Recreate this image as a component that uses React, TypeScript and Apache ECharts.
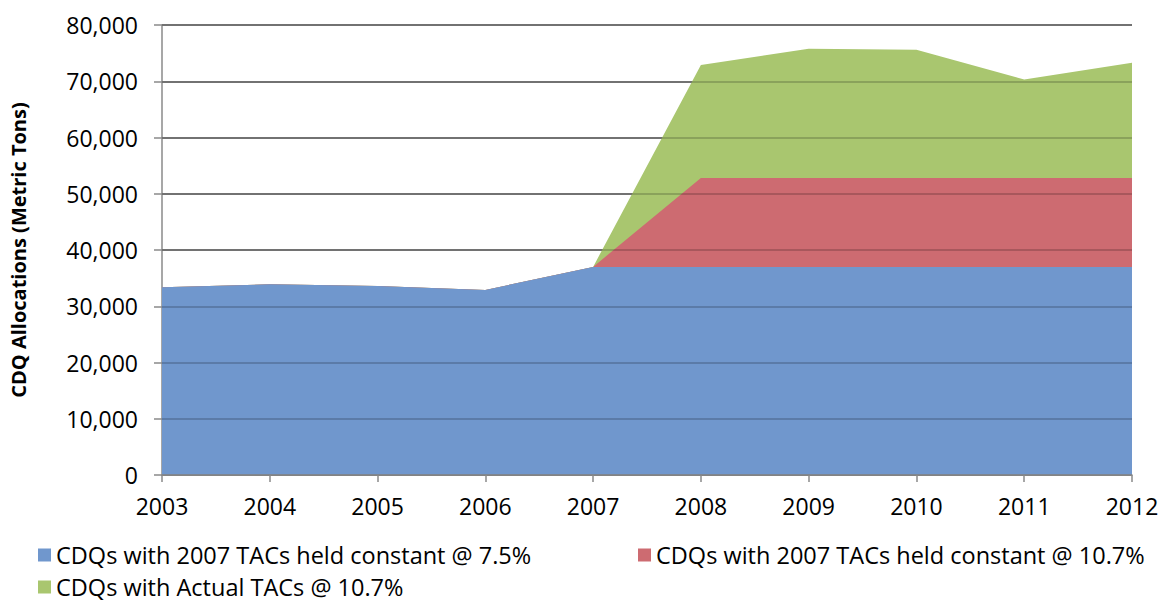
import React, { useEffect, useRef } from "react";
import * as echarts from "echarts";

const years = ["2003", "2004", "2005", "2006", "2007", "2008", "2009", "2010", "2011", "2012"];
const held75 = [33400, 33900, 33600, 32900, 37000, 37000, 37000, 37000, 37000, 37000];
const held107 = [33400, 33900, 33600, 32900, 37000, 52800, 52800, 52800, 52800, 52800];
const actual107 = [33400, 33900, 33600, 32900, 37000, 72900, 75800, 75600, 70300, 73300];
const seriesNames = [
  "CDQs with 2007 TACs held constant @ 7.5%",
  "CDQs with 2007 TACs held constant @ 10.7%",
  "CDQs with Actual TACs @ 10.7%",
];
const yTicks = { min: 0, max: 80000, interval: 10000 };

const FONT = "'Open Sans', sans-serif";

export default function App() {
  const ref = useRef<HTMLDivElement>(null);
  useEffect(() => {
    if (!ref.current) return;
    const chart = echarts.init(ref.current, undefined, { renderer: "svg" });
    const legendText = { fontFamily: FONT, fontSize: 23.5, color: "#000", lineHeight: 26 };
    const mkLegend = (name: string, left: number, top: number) => ({
      data: [name],
      left,
      top,
      padding: 0,
      itemWidth: 13,
      itemHeight: 13,
      itemGap: 8,
      icon: "rect",
      textStyle: legendText,
    });
    chart.setOption({
      animation: false,
      backgroundColor: "#fff",
      grid: { left: 152, right: 30, top: 25, bottom: 129, containLabel: false },
      legend: [
        mkLegend(seriesNames[0], 38, 542),
        mkLegend(seriesNames[1], 638, 542),
        mkLegend(seriesNames[2], 38, 574),
      ],
      xAxis: {
        type: "category",
        data: years,
        boundaryGap: false,
        z: 10,
        axisLine: { lineStyle: { color: "#8a8a8a", width: 1.5 } },
        axisTick: { show: true, length: 7, lineStyle: { color: "#8a8a8a", width: 1.5 } },
        axisLabel: { fontFamily: FONT, fontSize: 23, color: "#000", margin: 19 },
        splitLine: { show: false },
      },
      yAxis: [
        {
          type: "value",
          min: yTicks.min,
          max: yTicks.max,
          interval: yTicks.interval,
          name: "CDQ Allocations (Metric Tons)",
          nameLocation: "middle",
          nameGap: 134,
          nameTextStyle: { fontFamily: FONT, fontSize: 20, fontWeight: "bold", color: "#000" },
          axisLine: { show: true, lineStyle: { color: "#8a8a8a", width: 1.5 } },
          axisTick: { show: true, length: 8, lineStyle: { color: "#8a8a8a", width: 1.5 } },
          axisLabel: {
            fontFamily: FONT,
            fontSize: 23,
            color: "#000",
            margin: 24,
            formatter: (v: number) => v.toLocaleString("en-US"),
          },
          splitLine: { show: true, lineStyle: { color: "rgba(0,0,0,0.45)", width: 2 } },
        },
        {
          type: "value",
          min: yTicks.min,
          max: yTicks.max,
          interval: yTicks.interval,
          position: "left",
          z: 10,
          axisLine: { show: false },
          axisTick: { show: false },
          axisLabel: { show: false },
          splitLine: { show: true, lineStyle: { color: "rgba(0,0,0,0.18)", width: 2 } },
        },
      ],
      series: [
        {
          name: seriesNames[2],
          type: "line",
          data: actual107,
          showSymbol: false,
          symbol: "none",
          z: 2,
          lineStyle: { width: 0, color: "#a9c66f" },
          itemStyle: { color: "#a9c66f" },
          areaStyle: { color: "#a9c66f", opacity: 1 },
        },
        {
          name: seriesNames[1],
          type: "line",
          data: held107,
          showSymbol: false,
          symbol: "none",
          z: 3,
          lineStyle: { width: 0, color: "#cd6b71" },
          itemStyle: { color: "#cd6b71" },
          areaStyle: { color: "#cd6b71", opacity: 1 },
        },
        {
          name: seriesNames[0],
          type: "line",
          data: held75,
          showSymbol: false,
          symbol: "none",
          z: 4,
          lineStyle: { width: 0, color: "#7097cd" },
          itemStyle: { color: "#7097cd" },
          areaStyle: { color: "#7097cd", opacity: 1 },
        },
      ],
    });
    return () => chart.dispose();
  }, []);
  return <div ref={ref} style={{ width: 1162, height: 604, position: "absolute", left: 0, top: 0 }} />;
}
